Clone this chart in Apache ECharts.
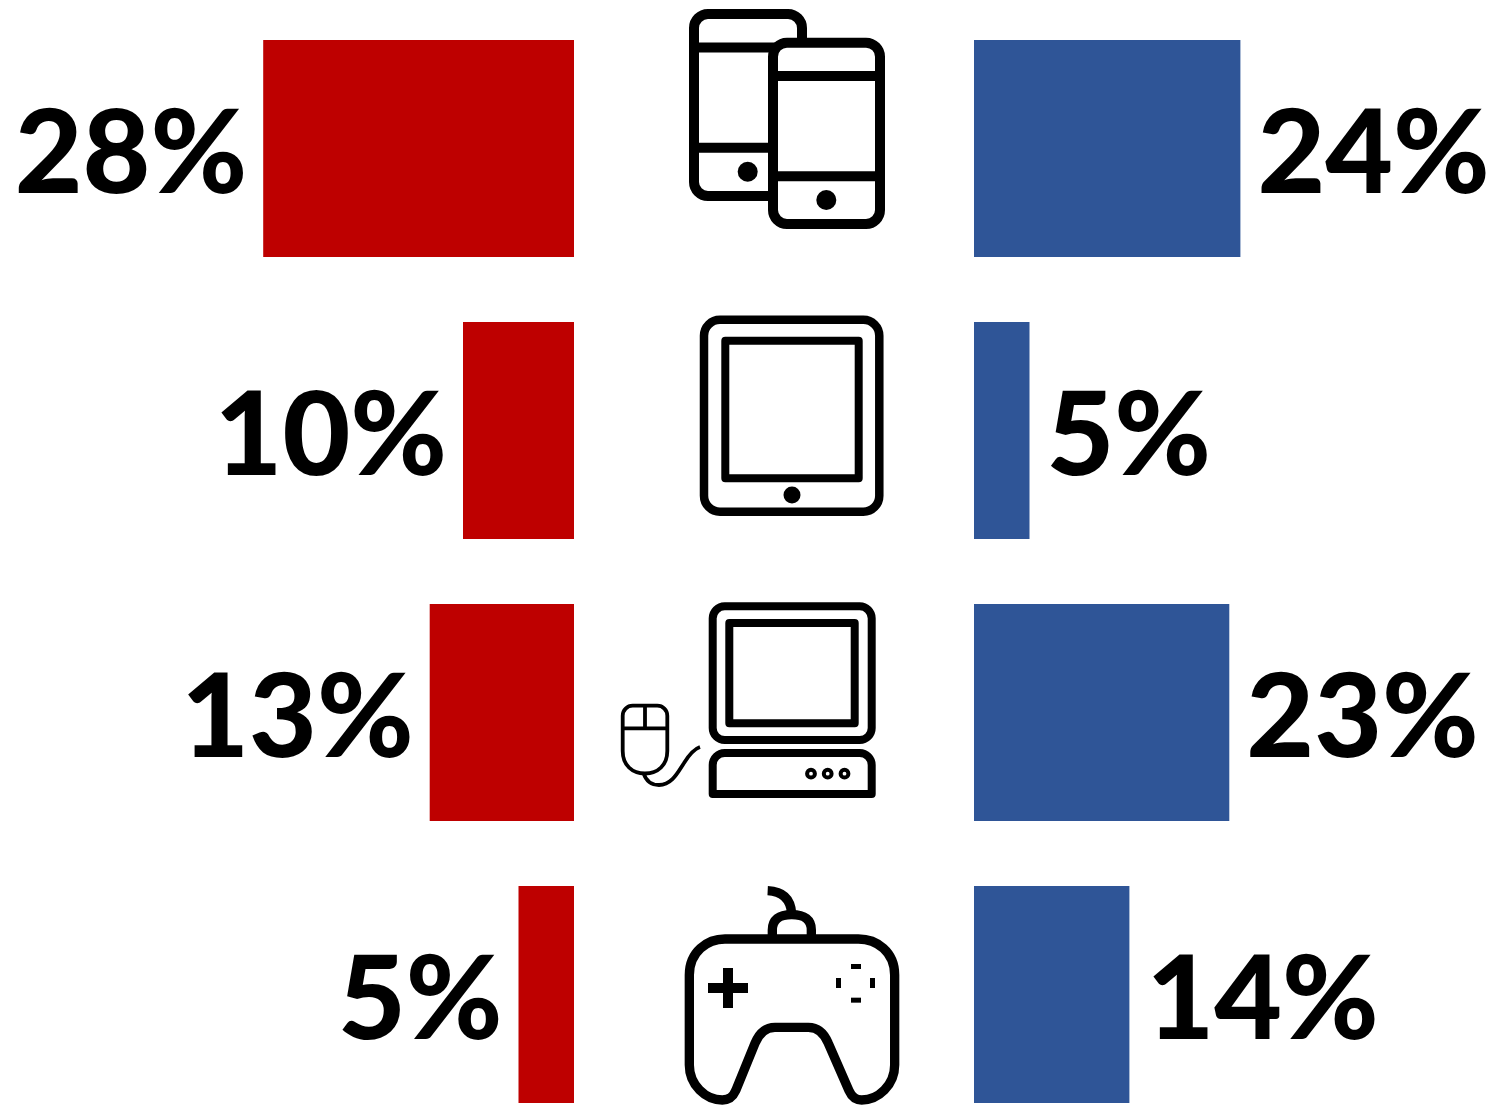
<!DOCTYPE html>
<html>
<head>
<meta charset="utf-8">
<style>html,body{margin:0;padding:0;background:#fff}#chart{width:1499px;height:1110px}</style>
<script src="https://cdn.jsdelivr.net/npm/echarts@6/dist/echarts.min.js"></script>
</head>
<body>
<div id="chart"></div>
<script>
// Device usage, two diverging groups, one row per device
const categories = ['Smartphone', 'Tablet', 'Computer', 'Game console'];
const leftValues = [28, 10, 13, 5];
const rightValues = [24, 5, 23, 14];

const RED = '#BE0000';
const BLUE = '#2F5597';
const FONT = 'Lato, "Open Sans", sans-serif';

function barSeries(name, values, color, gridIndex, labelPos, labelDistance) {
  return {
    name, type: 'bar', xAxisIndex: gridIndex, yAxisIndex: gridIndex,
    data: values, barWidth: 217, silent: true,
    itemStyle: { color },
    label: {
      show: true, position: labelPos, distance: labelDistance, offset: [0, 7],
      formatter: '{c}%', color: '#000', fontFamily: FONT,
      fontWeight: 900, fontSize: 117
    }
  };
}

// Line icons: each entry is stroked with the given width
function stroke(d, lineWidth) {
  return { type: 'path', shape: { pathData: d },
    style: { fill: 'none', stroke: '#000', lineWidth, lineJoin: 'round', lineCap: 'butt' } };
}
function outline(d, lineWidth) {
  const el = stroke(d, lineWidth);
  el.style.fill = '#fff';
  return el;
}
function dot(cx, cy, r) {
  return { type: 'circle', shape: { cx, cy, r }, style: { fill: '#000' } };
}
function ring(cx, cy, r, lineWidth) {
  return { type: 'circle', shape: { cx, cy, r }, style: { fill: '#fff', stroke: '#000', lineWidth } };
}
function block(x, y, width, height) {
  return { type: 'rect', shape: { x, y, width, height }, style: { fill: '#000' } };
}

const phones = [
  outline('M802 42 L802 28 A14 14 0 0 0 788 14 L708 14 A14 14 0 0 0 694 28 L694 182 A14 14 0 0 0 708 196 L775 196', 10),
  stroke('M694 47.5 L775 47.5 M694 147.7 L775 147.7', 10),
  dot(747.7, 171.7, 10),
  outline('M787 42.7 L866 42.7 A14 14 0 0 1 880 56.7 L880 210 A14 14 0 0 1 866 224 L787 224 A14 14 0 0 1 773 210 L773 56.7 A14 14 0 0 1 787 42.7 Z', 10),
  stroke('M773 76 L880 76 M773 176.3 L880 176.3', 10),
  dot(826.3, 200, 10)
];

const tablet = [
  stroke('M720 319.7 L863.3 319.7 A16 16 0 0 1 879.3 335.7 L879.3 495.7 A16 16 0 0 1 863.3 511.7 L720 511.7 A16 16 0 0 1 704 495.7 L704 335.7 A16 16 0 0 1 720 319.7 Z', 8.5),
  stroke('M725.3 340.7 L858.7 340.7 L858.7 478.3 L725.3 478.3 Z', 8),
  dot(792, 495, 8.5)
];

const desktop = [
  stroke('M724.7 606.3 L859.7 606.3 A12 12 0 0 1 871.7 618.3 L871.7 728 A12 12 0 0 1 859.7 740 L724.7 740 A12 12 0 0 1 712.7 728 L712.7 618.3 A12 12 0 0 1 724.7 606.3 Z', 8),
  stroke('M729.3 623 L854.7 623 L854.7 723.3 L729.3 723.3 Z', 8),
  stroke('M724.7 753 L859.7 753 A12 12 0 0 1 871.7 765 L871.7 794 L712.7 794 L712.7 765 A12 12 0 0 1 724.7 753 Z', 8),
  ring(811, 773.7, 3.9, 4), ring(827.7, 773.7, 3.9, 4), ring(844.5, 773.7, 3.9, 4),
  stroke('M632.7 705.7 L657.3 705.7 A10 10 0 0 1 667.3 715.7 L667.3 751 C667.3 765 658 773.5 645 773.5 C632 773.5 622.7 765 622.7 751 L622.7 715.7 A10 10 0 0 1 632.7 705.7 Z', 3.8),
  stroke('M622.7 728.3 L667.3 728.3 M645 705.7 L645 728.3', 3.8),
  stroke('M643.5 773 C646 781 652 785 659 785 C672 785 678 772 684 763 C689 755 694 749 700 747', 3.8)
];

// Gamepad is laid out at three times its drawn size, then scaled down by its group
const gamepad = {
  type: 'group', x: 675, y: 880, scaleX: 1 / 3, scaleY: 1 / 3,
  children: [
    stroke('M150 177 L550 177 C605 177 659 215 659 285 L659 555 C659 615 610 660 560 660 C540 660 530 650 522 632 L460 490 C448 460 430 442 400 442 L300 442 C270 442 252 460 240 490 L182 632 C174 650 164 660 142 660 C92 660 43 615 43 555 L43 285 C43 215 97 177 150 177 Z', 28),
    stroke('M292 177 L292 150 Q292 104 350 104 Q409 104 409 150 L409 177', 28),
    stroke('M278 32 Q345 35 350 100', 28),
    block(99, 309, 120, 30), block(144, 264, 30, 120),
    block(528, 252, 30, 15), block(528, 353, 30, 15),
    block(483, 294, 15, 30), block(585, 294, 15, 30)
  ]
};

const chart = echarts.init(document.getElementById('chart'), null, { renderer: 'canvas' });
chart.setOption({
  animation: false,
  backgroundColor: '#fff',
  grid: [
    { left: 241, top: 7.5, width: 333, height: 1128, outerBoundsMode: 'none' },
    { left: 974, top: 7.5, width: 333, height: 1128, outerBoundsMode: 'none' }
  ],
  xAxis: [
    { type: 'value', gridIndex: 0, min: 0, max: 30, inverse: true, show: false },
    { type: 'value', gridIndex: 1, min: 0, max: 30, show: false }
  ],
  yAxis: [
    { type: 'category', gridIndex: 0, data: categories, inverse: true, show: false },
    { type: 'category', gridIndex: 1, data: categories, inverse: true, show: false }
  ],
  series: [
    barSeries('Left', leftValues, RED, 0, 'left', 16),
    barSeries('Right', rightValues, BLUE, 1, 'right', 17),
    {
      type: 'custom', coordinateSystem: 'none', silent: true, data: [0],
      renderItem: () => ({
        type: 'group',
        children: [...phones, ...tablet, ...desktop, gamepad]
      })
    }
  ]
});
</script>
</body>
</html>
